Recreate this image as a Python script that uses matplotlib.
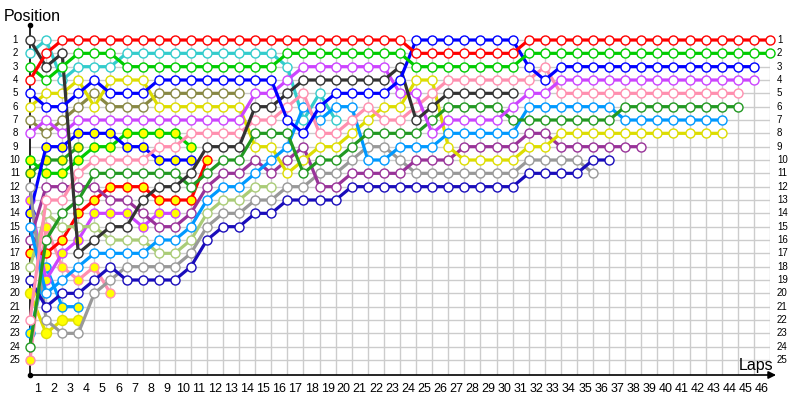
import matplotlib
matplotlib.use('Agg')
import matplotlib.pyplot as plt

# race position of each car per lap, index 0 = grid
red = [4,2,1,1,1,1,1,1,1,1,1,1,1,1,1,1,1,1,1,1,1,1,1,1,2,2,2,2,2,2,2,1,1,1,1,1,1,1,1,1,1,1,1,1,1,1,1]
green = [3,4,3,2,2,2,3,3,3,3,3,3,3,3,3,3,2,2,2,2,2,2,2,2,3,3,3,3,3,3,3,2,2,2,2,2,2,2,2,2,2,2,2,2,2,2,2]
blue = [5,6,6,5,4,5,5,5,4,4,4,4,4,4,4,4,7,8,6,5,5,5,5,4,1,1,1,1,1,1,1,3,4,3,3,3,3,3,3,3,3,3,3,3,3,3]
violet = [8,7,8,7,7,7,7,7,7,7,7,7,7,7,5,5,4,3,3,3,3,3,3,5,5,8,7,7,7,7,6,5,5,4,4,4,4,4,4,4,4,4,4,4,4,4]
pink = [22,13,13,11,10,10,10,10,9,9,8,8,8,8,7,7,6,5,8,8,7,6,7,7,6,5,4,4,4,4,4,4,3,5,5,5,5,5,5,5,5,5,5,5,5]
dgreen = [24,16,14,13,11,11,11,11,11,11,12,11,10,10,8,8,8,11,10,10,9,8,8,8,8,7,6,6,6,6,7,7,7,7,7,7,7,6,6,6,6,6,6,6,6]
lblue = [15,20,19,18,17,17,17,17,16,16,15,13,12,12,11,10,9,6,7,6,6,10,10,9,9,9,8,8,8,8,8,6,6,6,6,6,6,7,7,7,7,7,7,7]
yellow = [6,5,5,4,6,4,4,4,6,6,6,6,6,6,9,9,11,10,9,9,8,7,6,6,4,4,9,10,10,10,10,9,9,8,8,8,8,8,8,8,8,8,8,8]
purple = [16,12,12,12,12,13,13,14,15,15,14,12,11,11,10,11,10,9,12,12,11,11,11,11,10,10,10,9,9,9,9,8,8,9,9,9,9,9,9]
navy = [19,21,20,20,19,18,19,19,19,19,18,16,15,15,14,14,13,13,13,13,12,12,12,12,12,12,12,12,12,12,12,11,11,11,11,10,10]
gray = [12,22,23,23,20,19,18,18,18,18,17,15,14,14,13,13,12,12,11,11,10,9,9,10,11,11,11,11,11,11,11,10,10,10,10,11]
cyan = [2,1,4,3,3,3,2,2,2,2,2,2,2,2,2,2,3,7,5,7]
black = [1,3,2,17,16,15,15,13,12,12,11,9,9,9,6,6,5,4,4,4,4,4,4,3,7,6,5,5,5,5,5]
olive = [7,8,7,6,5,6,6,6,5,5,5,5,5,5]
lgreen = [18,14,15,15,15,16,16,16,17,17,16,14,13,13,12,12]
red_b = [17,17,16,14,13,12,12,12,13,13,13,10]
blue_b = [14,9,9,8,8,8,9,9,10,10,10]
green_b = [10,11,11,10,9,9,8,8,8,8,9]
violet_b = [13,19,17,16,14,14,14,15,14,14]
dgreen_b = [11,10,10,9]
pink_b = [25,15,18,19,18,20]
lblue_b = [23,18,21,21]
yellow_b = [20,23,22,22]

n_laps = 46
n_pos = 25
lap_labels = [str(k) for k in range(1, n_laps + 1)]
pos_labels = [str(p) for p in range(1, n_pos + 1)]


def main():
    fig = plt.figure(figsize=(8, 4), dpi=100)
    ax = fig.add_axes([30/800, 25/400, 740/800, 350/400])
    ax.set_xlim(0, n_laps)
    ax.set_ylim(26.125, -0.125)
    ax.set_axis_off()

    # grid
    ax.vlines(range(1, n_laps + 1), 1, 26.125, colors='#cccccc', lw=1, zorder=0)
    ax.hlines(range(1, n_pos + 1), 0, n_laps, colors='#cccccc', lw=1, zorder=0)

    # axes with arrow
    ax.plot([0, 0], [26.125, -0.125], color='black', lw=1.2, clip_on=False, zorder=1)
    ax.plot([0, 0], [-0.125, 26.125], 'o', ms=3, color='black', clip_on=False, zorder=1)
    ax.annotate('', xy=(46.55, 26.125), xytext=(0, 26.125),
                arrowprops=dict(arrowstyle='-|>', color='black', lw=1.2, mutation_scale=11),
                annotation_clip=False)

    fnt = 'Liberation Sans'
    for k, lab in enumerate(lap_labels):
        ax.text(k + 0.5, 27.2, lab, ha='center', va='center', fontsize=9, family=fnt)
    for p, lab in enumerate(pos_labels):
        ax.text(-0.93, p + 1, lab, ha='center', va='center', fontsize=7, family=fnt)
        ax.text(46.43, p + 1, lab, ha='left', va='center', fontsize=7, family=fnt)

    fig.text(4/800, 1 - 21/400, 'Position', fontsize=11.5, family=fnt, va='baseline', ha='left')
    fig.text(773/800, 1 - 370/400, 'Laps', fontsize=11.5, family=fnt, va='baseline', ha='right')

    cars = [
        (yellow_b, '#e0e000', '#ffff00'),
        (lblue_b, '#0099ff', '#ffff00'),
        (pink_b, '#ff8faf', '#ffff00'),
        (dgreen_b, '#229922', '#ffff00'),
        (violet_b, '#cc44ff', '#ffff00'),
        (green_b, '#00cc00', '#ffff00'),
        (blue_b, '#0000ff', '#ffff00'),
        (red_b, '#ff0000', '#ffff00'),
        (lgreen, '#aacc77', 'white'),
        (olive, '#888844', 'white'),
        (cyan, '#33cccc', 'white'),
        (gray, '#999999', 'white'),
        (navy, '#1a0dbb', 'white'),
        (purple, '#993399', 'white'),
        (yellow, '#dddd00', 'white'),
        (lblue, '#0099ff', 'white'),
        (dgreen, '#229922', 'white'),
        (pink, '#ff8faf', 'white'),
        (violet, '#cc44ff', 'white'),
        (black, '#333333', 'white'),
        (blue, '#0000ff', 'white'),
        (green, '#00cc00', 'white'),
        (red, '#ff0000', 'white'),
    ]
    for i, (pos, col, face) in enumerate(cars):
        ms = 7.2 if col == '#e0e000' else 6.5
        ax.plot(range(len(pos)), pos, '-o', color=col, lw=2.3, ms=ms, mfc=face,
                mec=col, mew=1.0, clip_on=False, zorder=2 + i)

    plt.savefig('out.png', dpi=100)
    plt.close()


if __name__ == '__main__':
    main()
